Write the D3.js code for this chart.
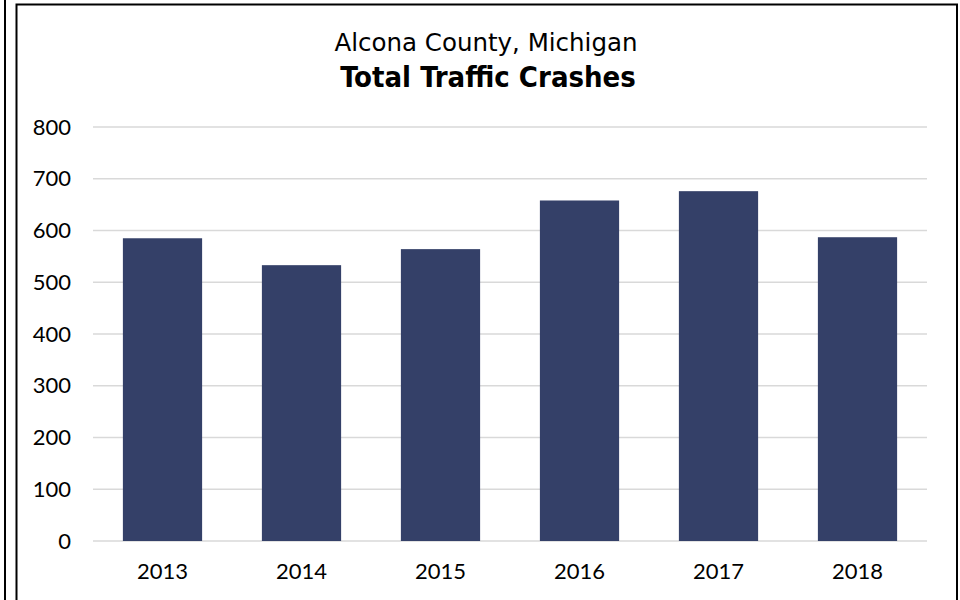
<!DOCTYPE html>
<html><head><meta charset="utf-8">
<script src="https://cdn.jsdelivr.net/npm/d3@7"></script>
<style>body{margin:0;background:#fff;}svg{display:block;}</style>
</head><body>
<svg id="c" width="960" height="600"></svg>
<script>
const years = ["2013","2014","2015","2016","2017","2018"];
const crashes = [585, 533, 564, 658, 676, 587];
const yTicks = [0,100,200,300,400,500,600,700,800];
const titleLine1 = "Alcona County, Michigan";
const titleLine2 = "Total Traffic Crashes";

const svg = d3.select("#c");
// outer decorations
svg.append("line").attr("x1",5).attr("x2",5).attr("y1",0).attr("y2",600).attr("stroke","#000").attr("stroke-width",2);
svg.append("rect").attr("x",16.5).attr("y",4.5).attr("width",940.5).attr("height",620).attr("fill","none").attr("stroke","#000").attr("stroke-width",2);

const x = d3.scaleBand().domain(years).range([93,927]).paddingInner(0.43).paddingOuter(0.215);
const y = d3.scaleLinear().domain([0,800]).range([541,127]);

const grid = svg.append("g");
grid.selectAll("line").data(yTicks).join("line")
  .attr("x1",93).attr("x2",927)
  .attr("y1",d=>y(d)).attr("y2",d=>y(d))
  .attr("stroke","#d9d9d9").attr("stroke-width",1.5);

const yAxis = svg.append("g").attr("transform","translate(93,0)")
  .call(d3.axisLeft(y).tickValues(yTicks).tickSize(0).tickPadding(22));
yAxis.select(".domain").remove();
yAxis.selectAll("text").attr("font-family","Lato, 'Open Sans', sans-serif").attr("font-size",22).attr("fill","#000");

svg.append("g").selectAll("rect").data(years).join("rect")
  .attr("x",d=>x(d)).attr("width",x.bandwidth())
  .attr("y",(d,i)=>y(crashes[i])).attr("height",(d,i)=>y(0)-y(crashes[i]))
  .attr("fill","#344068");

const xAxis = svg.append("g").attr("transform","translate(0,541)")
  .call(d3.axisBottom(x).tickSize(0).tickPadding(0));
xAxis.select(".domain").remove();
xAxis.selectAll("text").attr("dy",null).attr("y",38).attr("font-family","Lato, 'Open Sans', sans-serif").attr("font-size",22).attr("fill","#000");

svg.append("text").attr("x",486).attr("y",51).attr("text-anchor","middle")
  .attr("font-family","'DejaVu Sans', sans-serif").attr("font-size",24.5).attr("fill","#000").text(titleLine1);
svg.append("text").attr("x",488).attr("y",86.5).attr("text-anchor","middle")
  .attr("font-family","'DejaVu Sans Condensed', 'DejaVu Sans', sans-serif").attr("font-stretch","condensed").attr("font-weight","bold").attr("font-size",29).attr("fill","#000").text(titleLine2);
</script>
</body></html>
